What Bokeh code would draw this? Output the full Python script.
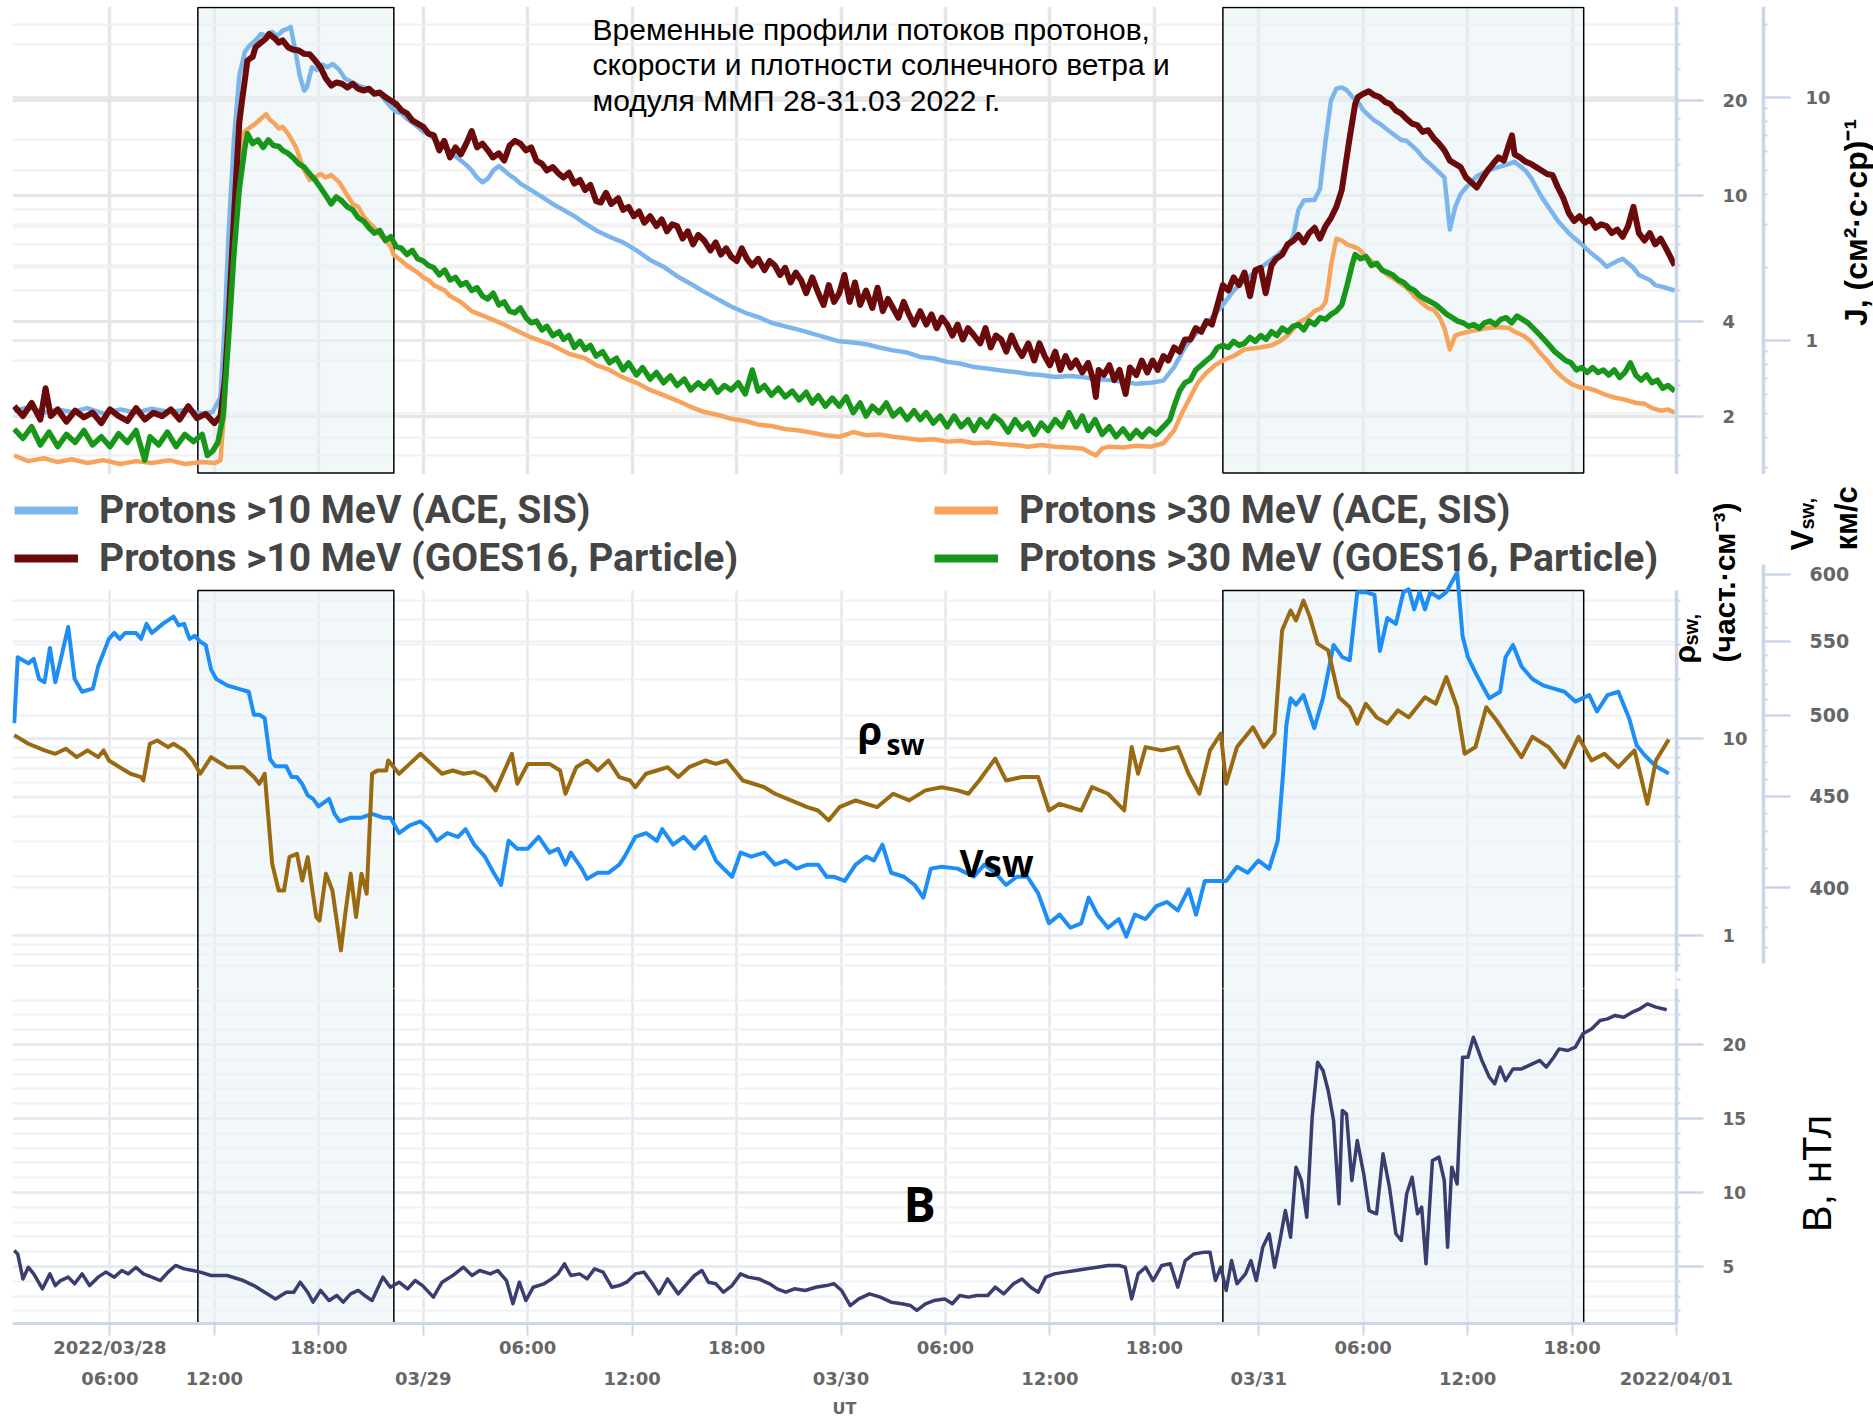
import numpy as np
import pandas as pd
from bokeh.plotting import figure
from bokeh.layouts import column
from bokeh.models import (Range1d, LogScale, LogAxis, LinearAxis, DatetimeAxis, FixedTicker, Grid,
                          Label, Legend, LegendItem, BasicTickFormatter)
from bokeh.embed import file_html
from bokeh.resources import INLINE

START = pd.Timestamp("2022-03-28 00:00")

# ---------------- data: (hours since 2022-03-28 00:00 UT, value) ----------------
ace10 = [(0.5,2.08),(1.3,2.13),(2.2,2.05),(3.0,2.1),(3.8,2.06),(4.7,2.12),(5.6,2.04),(6.6,2.1),(7.5,2.05),(8.4,2.11),
 (9.4,2.06),(10.3,2.09),(11.3,2.04),(11.9,2.06),(12.35,2.3),(12.6,4.0),(12.81,7.5),(13.12,15.0),(13.43,24.0),(13.75,28.5),
 (14.05,30.0),(14.36,31.0),(14.67,32.5),(14.98,32.0),(15.3,33.0),(15.6,32.0),(15.92,33.3),(16.23,33.8),(16.38,34.2),(16.69,28.0),
 (16.9,24.0),(17.16,21.5),(17.31,22.0),(17.6,25.5),(17.9,25.0),(18.2,26.0),(18.5,25.5),(18.8,26.1),(19.18,25.0),(19.5,23.5),
 (19.8,23.0),(20.26,22.3),(20.57,22.0),(20.88,21.5),(21.2,21.0),(21.5,21.0),(21.82,20.0),(22.13,19.1),(22.44,18.4),(22.75,18.2),
 (23.06,17.5),(23.37,17.0),(23.68,16.5),(24.0,15.9),(24.3,15.7),(24.61,15.1),(24.92,14.6),(25.23,14.2),(25.54,13.8),(25.85,13.3),
 (26.16,12.9),(26.47,12.5),(26.78,12.0),(27.09,11.4),(27.4,11.0),(27.71,11.3),(28.02,12.0),(28.34,12.4),(28.65,12.0),(28.96,11.6),
 (29.27,11.3),(29.58,10.9),(30.2,10.4),(30.82,9.9),(31.44,9.4),(32.06,9.0),(32.68,8.6),(33.3,8.15),(33.93,7.75),(34.7,7.4),
 (35.48,7.1),(36.25,6.7),(37.03,6.25),(37.8,5.95),(38.58,5.55),(39.36,5.25),(40.14,4.95),(40.9,4.7),(41.69,4.45),(42.5,4.25),
 (43.24,4.12),(44.0,3.95),(44.79,3.85),(45.6,3.75),(46.35,3.65),(47.1,3.55),(47.9,3.45),
 (48.7,3.42),(49.44,3.38),(50.2,3.3),(50.99,3.23),(51.8,3.18),(52.55,3.08),(53.3,3.05),(54.1,2.97),(54.9,2.93),(55.65,2.86),
 (56.4,2.83),(57.2,2.79),(58.0,2.76),(58.76,2.72),(59.5,2.7),(60.31,2.66),(61.1,2.68),(61.86,2.66),(62.6,2.62),(63.42,2.6),
 (64.2,2.57),(64.97,2.53),(65.8,2.55),(66.52,2.59),(67.14,2.86),(67.76,3.3),(68.38,3.64),(69.0,3.9),(69.31,4.1),(69.94,4.5),
 (70.56,5.0),(71.2,5.4),(72.11,5.9),(72.8,6.3),(73.66,6.9),(74.0,7.5),(74.28,9.0),(74.59,9.64),(75.21,9.7),(75.52,10.5),
 (75.84,14.9),(76.15,20.0),(76.46,21.8),(76.77,22.0),(77.08,21.5),(77.39,20.5),(77.7,19.8),(78.01,18.6),(78.63,17.3),(78.94,16.9),
 (79.56,15.9),(80.18,15.0),(80.49,14.9),(81.11,13.9),(81.42,13.2),(82.05,12.3),(82.67,11.4),(82.98,7.8),(83.29,9.2),(83.6,10.1),
 (83.91,10.6),(84.53,11.5),(85.15,12.0),(85.77,12.3),(86.39,12.6),(86.7,12.8),(87.32,12.0),(87.63,11.4),(88.25,9.9),(88.88,8.8),
 (89.19,8.3),(89.81,7.6),(90.43,7.1),(91.05,6.6),(91.67,6.2),(91.98,5.95),(92.6,6.2),(92.91,6.3),(93.53,5.9),(93.84,5.6),
 (94.47,5.4),(94.78,5.2),(95.4,5.1),(95.9,5.0)]

ace30 = [(0.5,1.5),(1.3,1.44),(2.2,1.47),(3.0,1.43),(3.8,1.46),(4.7,1.42),(5.6,1.45),(6.6,1.41),(7.5,1.44),(8.4,1.42),
 (9.4,1.45),(10.3,1.41),(11.3,1.43),(12.04,1.42),(12.35,1.45),(12.6,2.2),(12.81,4.0),(13.12,8.0),(13.43,13.5),(13.59,15.7),
 (13.9,16.2),(14.36,16.9),(14.67,17.5),(14.98,18.1),(15.14,17.5),(15.45,16.9),(15.7,16.3),(15.92,16.5),(16.23,15.7),(16.69,14.2),
 (17.16,12.0),(17.47,11.2),(17.78,11.4),(18.09,11.7),(18.4,11.4),(18.71,11.6),(19.18,11.0),(19.64,10.0),(19.95,9.4),(20.26,9.2),
 (20.57,8.6),(20.88,8.2),(21.19,7.9),(21.5,7.5),(21.82,7.2),(22.13,6.9),(22.28,6.5),(22.75,6.2),(23.06,6.0),(23.68,5.7),
 (24.0,5.5),(24.3,5.4),(24.61,5.2),(25.23,5.0),(25.54,4.8),(26.16,4.6),(26.78,4.3),(27.71,4.1),(28.65,3.9),(29.27,3.75),
 (30.2,3.55),(30.82,3.45),(31.44,3.35),(32.37,3.15),(33.3,3.05),(33.93,2.9),(34.7,2.8),(35.48,2.65),(36.25,2.55),(37.03,2.42),
 (37.8,2.33),(38.58,2.24),(39.36,2.14),(40.14,2.06),(40.9,2.02),(41.69,1.96),(42.5,1.93),(43.24,1.88),(44.0,1.86),(44.79,1.82),
 (45.6,1.8),(46.35,1.77),(47.1,1.74),(47.9,1.72),
 (48.7,1.78),(49.44,1.74),(50.2,1.75),(50.99,1.72),(51.8,1.7),(52.55,1.68),(53.3,1.69),(54.1,1.66),(54.9,1.67),(55.65,1.64),
 (56.4,1.65),(57.2,1.63),(58.0,1.62),(58.76,1.6),(59.5,1.62),(60.31,1.6),(61.1,1.59),(61.86,1.58),(62.64,1.5),(63.0,1.58),
 (63.42,1.6),(64.2,1.59),(64.97,1.61),(65.8,1.6),(66.52,1.64),(67.14,1.8),(67.6,2.05),(68.07,2.3),(68.5,2.55),(69.0,2.75),
 (69.5,2.9),(69.94,3.0),(70.56,3.1),(71.18,3.25),(72.11,3.3),(72.73,3.35),(73.2,3.45),(73.66,3.6),(74.28,3.95),(74.8,4.1),
 (75.21,4.3),(75.6,4.4),(75.84,4.6),(76.0,5.2),(76.15,6.0),(76.46,7.3),(76.77,7.2),(77.08,7.0),(77.39,6.9),(77.7,6.8),
 (78.32,6.3),(78.94,5.9),(79.4,5.6),(79.87,5.4),(80.49,5.1),(81.11,4.7),(81.73,4.4),(82.05,4.35),(82.4,4.1),(82.67,3.8),
 (82.98,3.25),(83.29,3.6),(83.6,3.65),(84.05,3.7),(84.53,3.75),(85.15,3.8),(85.77,3.83),(86.39,3.8),(86.7,3.7),(87.2,3.6),
 (87.63,3.45),(88.1,3.2),(88.57,3.0),(89.0,2.8),(89.5,2.64),(90.0,2.52),(90.43,2.47),(90.9,2.45),(91.36,2.41),(91.8,2.35),
 (92.29,2.3),(92.8,2.27),(93.22,2.24),(93.7,2.2),(94.16,2.19),(94.6,2.12),(95.09,2.08),(95.5,2.1),(95.9,2.05)]

goes10 = [(0.5,2.15),(1.0,2.0),(1.5,2.2),(2.0,1.95),(2.3,2.45),(2.6,2.0),(3.0,2.1),(3.5,1.92),(4.0,2.08),(4.5,1.98),
 (5.0,2.05),(5.5,1.9),(6.0,2.1),(6.5,2.0),(7.0,1.93),(7.5,2.12),(8.0,1.95),(8.5,2.05),(9.0,2.0),(9.5,2.1),
 (10.0,1.95),(10.5,2.15),(11.0,1.97),(11.5,2.03),(12.0,1.9),(12.35,2.0),(12.6,2.6),(12.81,4.0),(13.12,8.5),(13.43,17.0),
 (13.59,20.0),(13.9,26.8),(14.2,27.5),(14.36,29.5),(14.67,30.5),(14.98,31.5),(15.14,32.5),(15.45,31.5),(15.7,30.5),(15.92,31.0),
 (16.23,29.5),(16.5,29.0),(16.85,28.8),(17.16,28.1),(17.47,28.0),(17.78,26.8),(18.09,25.5),(18.4,23.5),(18.71,22.3),(19.0,22.8),
 (19.33,22.6),(19.64,22.0),(19.95,22.6),(20.26,21.8),(20.57,21.5),(20.88,21.8),(21.19,21.0),(21.5,21.2),(21.82,20.5),(22.13,20.0),
 (22.44,19.5),(22.75,18.6),(23.06,18.2),(23.37,17.3),(23.68,16.9),(24.0,16.5),(24.3,15.7),(24.61,15.5),(24.92,13.9),(25.2,14.9),
 (25.54,13.2),(25.85,14.2),(26.16,13.5),(26.47,14.6),(26.78,16.0),(27.09,14.2),(27.4,14.6),(27.71,13.9),(28.0,13.2),(28.34,13.6),
 (28.65,12.9),(28.96,14.4),(29.27,14.9),(29.58,14.6),(29.9,13.9),(30.2,14.2),(30.5,12.9),(30.82,12.6),(31.1,12.0),(31.44,12.3),
 (31.8,11.7),(32.06,11.4),(32.37,11.8),(32.68,10.9),(33.0,11.2),(33.3,10.4),(33.6,10.8),(33.93,9.6),(34.2,9.5),(34.5,10.2),
 (34.8,9.4),(35.2,9.8),(35.48,9.0),(35.8,9.2),(36.1,8.6),(36.4,8.9),(36.7,8.2),(37.03,8.6),(37.4,8.0),(37.7,8.4),
 (38.0,7.7),(38.3,8.1),(38.58,8.0),(38.9,7.3),(39.2,7.7),(39.5,7.0),(39.8,7.5),(40.14,7.2),(40.5,6.7),(40.8,7.1),
 (41.1,6.5),(41.4,6.8),(41.69,6.4),(42.0,6.2),(42.3,6.8),(42.6,6.3),(42.9,6.0),(43.24,6.3),(43.6,5.8),(43.9,6.2),
 (44.2,6.0),(44.5,5.6),(44.79,5.9),(45.1,5.3),(45.4,5.7),(45.7,5.4),(46.0,4.9),(46.35,5.5),(46.7,4.9),(47.0,4.5),
 (47.3,5.2),(47.6,4.6),(47.9,4.9),
 (48.2,5.6),(48.5,4.6),(48.8,5.3),(49.1,4.5),(49.44,5.0),(49.8,4.4),(50.1,5.1),(50.4,4.3),(50.7,4.7),(50.99,4.4),
 (51.3,4.1),(51.6,4.6),(51.9,4.2),(52.2,3.9),(52.55,4.3),(52.9,3.9),(53.2,4.2),(53.5,3.8),(53.8,4.1),(54.1,3.9),
 (54.4,3.6),(54.7,3.9),(55.0,3.5),(55.3,3.8),(55.65,3.6),(56.0,3.4),(56.3,3.8),(56.6,3.3),(56.9,3.6),(57.2,3.5),
 (57.5,3.2),(57.8,3.6),(58.1,3.3),(58.4,3.1),(58.76,3.4),(59.1,3.0),(59.4,3.4),(59.7,3.1),(60.0,2.9),(60.31,3.2),
 (60.6,2.8),(60.9,3.1),(61.2,2.85),(61.5,3.0),(61.86,2.75),(62.2,2.95),(62.5,2.6),(62.64,2.3),(62.8,2.8),(63.1,2.7),
 (63.42,2.9),(63.7,2.6),(64.0,2.8),(64.35,2.35),(64.6,2.85),(64.97,2.7),(65.28,3.0),(65.6,2.75),(65.9,3.0),(66.2,2.8),
 (66.52,3.1),(66.8,3.0),(67.14,3.3),(67.45,3.2),(67.76,3.5),(68.07,3.5),(68.38,3.8),(68.7,3.7),(69.0,4.0),(69.31,3.9),
 (69.63,4.5),(69.94,5.2),(70.25,5.0),(70.56,5.5),(70.87,5.2),(71.18,5.7),(71.5,4.8),(71.8,5.8),(72.11,5.9),(72.4,4.9),
 (72.73,6.0),(73.0,6.3),(73.35,6.5),(73.66,7.0),(74.0,7.2),(74.28,7.5),(74.59,7.1),(74.9,7.6),(75.21,7.9),(75.52,7.3),
 (75.84,8.0),(76.15,8.5),(76.46,9.2),(76.77,10.4),(77.08,13.5),(77.23,15.3),(77.54,19.5),(77.7,20.5),(78.01,21.0),(78.32,21.4),
 (78.63,20.8),(78.94,20.5),(79.25,19.8),(79.56,19.5),(79.87,18.6),(80.18,18.2),(80.49,17.5),(80.8,16.9),(81.11,16.7),(81.42,15.9),
 (81.73,16.1),(82.05,15.2),(82.36,14.6),(82.67,13.9),(82.98,12.9),(83.29,12.6),(83.6,12.3),(83.91,11.4),(84.22,11.0),(84.53,10.6),
 (84.84,11.3),(85.15,12.0),(85.46,12.6),(85.77,13.2),(86.08,12.9),(86.39,14.6),(86.55,15.5),(86.7,13.5),(87.01,13.2),(87.32,12.8),
 (87.63,12.6),(87.94,12.3),(88.25,12.0),(88.57,11.7),(88.88,11.6),(89.19,10.6),(89.5,9.8),(89.81,8.8),(90.12,8.3),(90.43,8.6),
 (90.74,8.2),(91.05,8.4),(91.36,7.9),(91.67,8.1),(91.98,8.0),(92.29,7.6),(92.6,7.8),(92.91,7.4),(93.22,8.0),(93.53,9.2),
 (93.84,7.6),(94.16,7.2),(94.47,7.6),(94.78,7.0),(95.09,7.3),(95.4,6.8),(95.9,6.0)]

goes30 = [(0.5,1.82),(1.0,1.7),(1.5,1.85),(2.0,1.62),(2.5,1.78),(3.0,1.6),(3.5,1.75),(4.0,1.65),(4.5,1.8),(5.0,1.62),
 (5.5,1.72),(6.0,1.6),(6.5,1.76),(7.0,1.65),(7.5,1.8),(8.0,1.45),(8.3,1.72),(8.8,1.62),(9.3,1.78),(9.8,1.6),
 (10.3,1.75),(10.8,1.66),(11.3,1.75),(11.6,1.5),(11.9,1.55),(12.2,1.65),(12.5,2.0),(12.81,3.5),(13.12,6.5),(13.43,10.5),
 (13.75,14.2),(13.9,15.7),(14.2,14.6),(14.5,15.0),(14.8,14.2),(15.1,15.0),(15.4,14.4),(15.7,14.3),(15.92,13.9),(16.23,13.6),
 (16.5,13.2),(16.85,12.6),(17.16,12.3),(17.47,11.7),(17.78,11.2),(18.09,10.6),(18.4,10.0),(18.71,9.4),(19.0,9.9),(19.33,9.6),
 (19.64,9.2),(19.95,9.0),(20.26,8.5),(20.57,8.3),(20.88,7.9),(21.19,7.6),(21.5,7.75),(21.82,7.2),(22.13,7.4),(22.44,6.9),
 (22.75,6.8),(23.06,6.5),(23.37,6.7),(23.68,6.3),(24.0,6.2),(24.3,6.0),(24.61,5.9),(24.92,5.6),(25.23,5.8),(25.54,5.4),
 (25.85,5.5),(26.16,5.2),(26.47,5.3),(26.78,5.0),(27.09,5.1),(27.4,4.8),(27.71,4.7),(28.02,4.9),(28.34,4.5),(28.65,4.6),
 (28.96,4.3),(29.27,4.25),(29.58,4.4),(29.9,4.1),(30.2,3.95),(30.5,4.0),(30.82,3.75),(31.1,3.85),(31.44,3.6),(31.8,3.7),
 (32.06,3.5),(32.37,3.6),(32.68,3.3),(33.0,3.45),(33.3,3.25),(33.6,3.35),(33.93,3.1),(34.3,3.2),(34.7,2.95),(35.1,3.05),
 (35.48,2.8),(35.8,2.95),(36.25,2.7),(36.6,2.85),(37.03,2.62),(37.4,2.75),(37.8,2.55),(38.2,2.68),(38.58,2.5),(39.0,2.62),
 (39.36,2.42),(39.8,2.55),(40.14,2.45),(40.5,2.58),(40.9,2.38),(41.3,2.5),(41.69,2.42),(42.1,2.55),(42.5,2.35),(42.9,2.8),
 (43.24,2.4),(43.6,2.5),(44.0,2.33),(44.4,2.45),(44.79,2.3),(45.2,2.4),(45.6,2.25),(46.0,2.38),(46.35,2.2),(46.7,2.32),
 (47.1,2.15),(47.5,2.28),(47.9,2.15),
 (48.3,2.3),(48.7,2.05),(49.1,2.2),(49.44,2.0),(49.8,2.15),(50.2,2.05),(50.6,2.2),(50.99,2.0),(51.4,2.1),(51.8,1.95),
 (52.2,2.08),(52.55,1.95),(52.9,2.05),(53.3,1.9),(53.7,2.0),(54.1,1.85),(54.5,2.0),(54.9,1.85),(55.3,1.95),(55.65,1.8),
 (56.0,1.95),(56.4,1.85),(56.8,2.0),(57.2,1.92),(57.6,1.78),(58.0,1.95),(58.4,1.82),(58.76,1.9),(59.1,1.75),(59.5,1.9),
 (59.9,1.8),(60.31,1.95),(60.7,1.85),(61.1,2.05),(61.5,1.85),(61.86,2.0),(62.2,1.8),(62.6,1.95),(63.0,1.75),(63.42,1.85),
 (63.8,1.72),(64.2,1.82),(64.6,1.7),(64.97,1.8),(65.3,1.72),(65.7,1.82),(66.1,1.75),(66.52,1.85),(66.9,1.95),(67.14,2.15),
 (67.45,2.4),(67.76,2.55),(68.07,2.6),(68.38,2.8),(68.7,2.9),(69.0,3.0),(69.31,3.1),(69.63,3.3),(69.94,3.35),(70.25,3.3),
 (70.56,3.45),(70.87,3.35),(71.18,3.4),(71.5,3.55),(71.8,3.45),(72.11,3.6),(72.42,3.5),(72.73,3.7),(73.04,3.6),(73.35,3.8),
 (73.66,3.7),(73.97,3.85),(74.28,3.9),(74.59,3.75),(74.9,4.0),(75.21,3.9),(75.52,4.1),(75.84,4.05),(76.15,4.2),(76.46,4.3),
 (76.77,4.5),(77.08,5.2),(77.39,6.1),(77.54,6.5),(77.85,6.3),(78.16,6.4),(78.47,6.0),(78.78,6.1),(79.09,5.8),(79.4,5.7),
 (79.71,5.6),(80.02,5.4),(80.33,5.3),(80.64,5.1),(80.95,5.0),(81.26,4.8),(81.57,4.7),(81.88,4.6),(82.19,4.5),(82.5,4.35),
 (82.81,4.2),(83.12,4.1),(83.43,4.0),(83.74,3.95),(84.05,3.85),(84.36,3.9),(84.67,3.8),(84.98,3.95),(85.29,4.0),(85.6,3.9),
 (85.91,4.05),(86.22,4.1),(86.53,3.95),(86.84,4.15),(87.15,4.05),(87.46,3.95),(87.77,3.8),(88.08,3.65),(88.39,3.5),(88.7,3.35),
 (89.01,3.2),(89.32,3.1),(89.63,3.0),(89.94,2.95),(90.25,2.8),(90.56,2.85),(90.87,2.75),(91.18,2.85),(91.49,2.75),(91.8,2.8),
 (92.11,2.7),(92.42,2.8),(92.73,2.65),(93.04,2.75),(93.35,2.95),(93.66,2.7),(93.97,2.6),(94.28,2.7),(94.59,2.55),(94.9,2.6),
 (95.21,2.45),(95.52,2.5),(95.9,2.4)]

rho_sw = [(0.5,10.4),(1.31,9.4),(2.24,8.7),(2.86,8.36),(3.47,8.87),(4.09,8.04),(4.71,8.7),(5.32,8.04),(5.63,8.7),(5.94,7.73),
 (6.56,7.15),(7.18,6.62),(7.79,6.37),(7.92,6.12),(8.29,9.4),(8.72,9.77),(9.34,9.04),(9.65,9.4),(10.26,8.7),(10.76,7.73),
 (11.19,6.62),(11.81,8.04),(12.73,7.15),(13.66,7.15),(14.27,6.37),(14.58,5.89),(14.89,6.62),(15.08,4.15),(15.32,2.31),(15.69,1.69),
 (16.0,1.69),(16.31,2.5),(16.74,2.6),(17.05,1.9),(17.36,2.5),(17.85,1.24),(18.04,1.19),(18.41,2.06),(18.78,1.69),(19.27,0.84),
 (19.52,1.29),(19.83,2.06),(20.14,1.24),(20.45,2.06),(20.75,1.63),(21.06,6.62),(21.37,6.88),(21.87,6.88),(21.99,7.73),(22.61,6.62),
 (23.22,7.43),(23.84,8.36),(24.46,7.43),(25.08,6.62),(25.69,6.88),(26.31,6.62),(26.93,6.75),(27.54,6.37),(28.16,5.45),(29.09,8.36),
 (29.4,5.89),(30.01,7.43),(30.63,7.43),(31.25,7.43),(31.86,6.88),(32.17,5.24),(32.79,7.15),(33.41,7.73),(34.02,6.88),(34.64,7.73),
 (35.26,6.37),(35.88,6.12),(36.18,5.66),(36.8,6.62),(37.42,6.88),(38.04,7.15),(38.65,6.37),(39.27,7.15),(40.2,7.73),(40.81,7.43),
 (41.43,7.73),(42.36,6.12),(42.97,5.89),(43.59,5.66),(44.21,5.24),(45.13,4.85),(46.06,4.48),(46.68,4.31),(47.29,3.84),(47.91,4.48),
 (48.84,4.85),(49.45,4.66),(50.07,4.48),(51.0,5.24),(51.92,4.85),(52.85,5.45),(53.78,5.66),(54.7,5.45),(55.32,5.24),(55.94,6.12),
 (56.86,7.9),(57.48,6.12),(58.4,6.37),(59.33,6.37),(59.95,4.31),(60.56,4.66),(61.8,4.31),(62.42,5.66),(63.34,5.24),(64.27,4.31),
 (64.7,9.04),(65.07,6.62),(65.5,9.04),(66.43,8.7),(67.35,9.04),(67.97,6.62),(68.59,5.24),(69.2,8.7),(69.82,10.6),(70.13,5.89),
 (70.75,9.04),(71.67,11.4),(72.29,9.04),(72.91,10.6),(73.34,35.3),(73.83,44.6),(74.14,39.7),(74.57,50.1),(74.94,41.3),(75.38,30.3),
 (75.99,28.0),(76.61,16.2),(77.23,14.4),(77.66,11.9),(78.15,15.0),(78.77,12.8),(79.39,11.9),(80.0,13.9),(80.62,12.8),(81.55,16.2),
 (82.17,15.0),(82.78,20.5),(83.4,14.4),(83.83,8.36),(84.45,9.04),(85.07,14.4),(85.68,12.3),(86.3,10.2),(87.1,8.04),(87.72,10.2),
 (88.65,9.04),(89.57,7.15),(90.37,10.2),(91.12,7.73),(91.86,8.36),(92.66,7.15),(93.59,8.7),(94.33,4.66),(94.82,7.73),(95.56,9.9)]

v_sw = [(0.5,494.8),(0.7,538.9),(1.0,536.8),(1.31,534.6),(1.62,537.8),(1.93,523.9),(2.24,521.7),(2.55,545.4),(2.86,521.7),(3.16,536.8),
 (3.6,560.4),(3.97,523.9),(4.4,515.3),(5.02,517.4),(5.32,532.5),(5.94,551.8),(6.25,556.1),(6.56,551.8),(6.87,556.1),(7.49,556.1),
 (7.79,551.8),(8.1,562.6),(8.41,556.1),(9.03,562.6),(9.65,568.0),(9.95,561.5),(10.26,562.6),(10.57,551.8),(10.88,554.0),(11.19,549.7),
 (11.5,547.5),(11.81,530.3),(12.11,523.9),(12.73,519.6),(13.35,517.4),(13.97,515.3),(14.27,500.2),(14.58,500.2),(14.89,498.0),(15.2,472.2),
 (15.51,467.9),(16.13,467.9),(16.43,461.5),(16.74,461.5),(17.05,457.2),(17.36,450.7),(17.67,448.6),(17.98,444.3),(18.29,446.4),(18.59,448.6),
 (18.9,440.0),(19.21,435.7),(19.83,437.8),(20.45,437.8),(21.06,440.0),(21.68,437.8),(22.11,437.8),(22.61,429.2),(23.22,433.5),(23.84,435.7),
 (24.33,431.4),(24.77,424.9),(25.38,429.2),(26.0,427.1),(26.43,431.4),(26.93,422.8),(27.54,416.3),(28.04,407.7),(28.47,401.3),(28.9,424.9),
 (29.4,420.6),(30.01,420.6),(30.63,427.1),(31.25,418.5),(31.74,420.6),(32.17,412.0),(32.48,418.5),(33.1,409.9),(33.41,404.5),(34.02,407.7),
 (34.64,407.7),(35.26,412.0),(35.57,416.3),(36.18,427.1),(36.8,429.2),(37.42,424.9),(37.73,431.4),(38.35,422.8),(38.96,427.1),(39.58,420.6),
 (40.2,427.1),(40.81,414.2),(41.25,409.9),(41.74,405.6),(42.23,418.5),(42.85,416.3),(43.59,418.5),(44.21,412.0),(44.83,414.2),(45.44,409.9),
 (46.06,412.0),(46.68,412.0),(47.17,405.6),(47.6,405.6),(48.22,403.4),(48.84,412.0),(49.45,416.3),(49.89,414.2),(50.38,422.8),(50.88,407.7),
 (51.62,405.6),(52.23,401.3),(52.73,394.8),(53.16,409.9),(53.78,410.9),(54.7,409.9),(55.63,405.6),(56.24,412.0),(56.86,407.7),(57.48,401.3),
 (58.1,405.6),(58.71,405.6),(59.33,397.0),(59.95,381.9),(60.56,386.2),(61.18,379.7),(61.8,381.9),(62.23,394.8),(62.73,386.2),(63.34,379.7),
 (63.96,384.0),(64.39,375.4),(64.88,386.2),(65.5,384.0),(66.12,390.5),(66.74,392.6),(67.35,388.3),(67.97,399.1),(68.4,386.2),(68.9,403.4),
 (69.51,403.4),(70.13,403.4),(70.75,410.9),(71.37,407.7),(71.98,414.2),(72.6,409.9),(73.09,424.9),(73.4,463.6),(73.59,493.7),(73.83,511.0),
 (74.14,506.7),(74.57,513.1),(75.19,491.6),(75.69,511.0),(76.3,547.5),(76.8,538.9),(77.23,536.8),(77.66,586.2),(78.15,586.2),(78.65,584.1),
 (78.96,543.2),(79.39,566.9),(79.88,562.6),(80.31,586.2),(80.62,588.4),(80.93,573.3),(81.24,586.2),(81.55,573.3),(81.86,586.2),(82.35,581.9),
 (82.78,586.2),(83.4,601.3),(83.71,554.0),(84.02,538.9),(84.45,528.2),(84.94,517.4),(85.25,511.0),(85.87,515.3),(86.18,538.9),(86.61,547.5),
 (87.1,532.5),(87.72,523.9),(88.34,519.6),(88.96,517.4),(89.57,515.3),(90.19,508.8),(90.99,513.1),(91.43,502.3),(92.04,513.1),(92.66,515.3),
 (93.28,498.0),(93.71,480.8),(94.2,474.4),(94.82,467.9),(95.56,463.6)]

b_imf = [(0.5,6.08),(0.7,5.85),(1.0,4.16),(1.31,4.95),(1.62,4.5),(2.12,3.49),(2.55,4.5),(2.86,3.71),(3.16,4.05),(3.6,4.28),
 (3.97,3.83),(4.4,4.5),(4.83,3.71),(5.32,4.28),(5.76,4.62),(6.25,4.28),(6.68,4.73),(7.05,4.5),(7.49,4.95),(7.92,4.5),
 (8.41,4.28),(8.9,4.05),(9.34,4.62),(9.77,5.07),(10.26,4.84),(10.76,4.73),(11.19,4.62),(11.81,4.39),(12.73,4.39),(13.66,4.05),
 (14.27,3.71),(14.89,3.26),(15.51,2.81),(16.13,3.26),(16.56,3.26),(16.93,3.94),(17.36,3.26),(17.67,2.59),(18.1,3.38),(18.59,2.7),
 (19.03,3.04),(19.4,2.59),(19.83,3.15),(20.26,3.38),(20.63,3.04),(21.06,2.7),(21.68,4.28),(22.11,3.6),(22.61,3.94),(23.1,3.49),
 (23.53,4.05),(23.96,3.71),(24.58,2.93),(25.08,3.94),(25.69,4.39),(26.31,4.95),(26.8,4.39),(27.24,4.73),(27.85,4.5),(28.28,4.73),
 (28.78,4.05),(29.15,2.48),(29.52,3.94),(29.89,2.7),(30.32,3.6),(30.94,3.83),(31.37,4.16),(31.74,4.5),(32.11,5.18),(32.48,4.39),
 (32.98,4.5),(33.41,4.16),(33.84,4.84),(34.33,4.62),(34.83,3.6),(35.26,3.71),(35.69,3.94),(36.18,4.5),(36.68,4.62),(37.11,3.94),
 (37.54,3.15),(38.04,4.16),(38.65,3.15),(39.15,3.83),(39.58,4.39),(40.01,4.73),(40.38,3.94),(40.81,3.83),(41.25,3.26),(41.74,3.71),
 (42.23,4.5),(42.67,4.28),(43.28,4.16),(43.9,3.83),(44.33,3.49),(44.83,3.26),(45.32,3.49),(45.94,3.38),(46.55,3.6),(47.17,3.71),
 (47.6,3.83),(48.03,3.38),(48.53,2.36),(49.02,2.81),(49.64,3.15),(50.26,2.93),(50.88,2.59),(51.49,2.48),(51.99,2.36),(52.36,2.03),
 (52.85,2.48),(53.34,2.7),(53.96,2.81),(54.39,2.48),(54.82,3.04),(55.32,2.93),(55.81,3.04),(56.43,3.04),(56.86,3.6),(57.35,3.15),
 (57.91,3.83),(58.4,4.16),(58.9,3.6),(59.33,3.26),(59.76,4.28),(60.26,4.5),(60.87,4.62),(61.49,4.73),(62.11,4.84),(62.72,4.95),
 (63.34,5.07),(63.96,5.07),(64.33,4.95),(64.7,2.81),(65.07,4.5),(65.5,4.95),(65.93,4.05),(66.43,5.07),(66.92,5.18),(67.35,3.6),
 (67.78,5.4),(68.28,5.85),(68.9,5.97),(69.2,5.97),(69.51,4.05),(69.82,4.95),(70.13,3.38),(70.44,5.4),(70.75,3.83),(71.24,4.5),
 (71.55,5.4),(71.86,4.05),(72.23,6.3),(72.6,7.21),(72.91,4.95),(73.22,6.76),(73.53,8.78),(73.83,6.98),(74.14,11.71),(74.45,10.81),
 (74.76,8.33),(75.07,15.09),(75.38,18.8),(75.69,18.24),(75.99,16.89),(76.3,14.86),(76.61,9.23),(76.8,15.54),(77.04,15.31),(77.35,10.81),
 (77.66,13.51),(78.03,11.26),(78.34,8.78),(78.77,8.56),(79.14,12.61),(79.51,10.36),(79.88,7.21),(80.19,6.76),(80.5,9.91),(80.81,11.03),
 (81.12,8.56),(81.36,9.01),(81.61,5.18),(81.98,12.16),(82.35,12.39),(82.66,10.81),(82.85,6.3),(83.09,11.71),(83.4,10.58),(83.71,19.14),
 (84.02,19.14),(84.33,20.49),(84.82,18.92),(85.25,17.79),(85.56,17.34),(85.87,18.47),(86.18,17.56),(86.61,18.35),(87.1,18.35),(87.72,18.69),
 (88.15,18.92),(88.52,18.47),(88.95,19.14),(89.26,19.7),(89.76,19.59),(90.19,19.82),(90.62,20.72),(91.12,21.05),(91.61,21.62),(92.04,21.73),
 (92.47,21.96),(92.97,21.84),(93.46,22.18),(93.9,22.41),(94.33,22.74),(94.82,22.52),(95.44,22.34)]

# highlighted intervals (hours)
box_start_h = [11.05, 69.94]
box_end_h = [22.31, 90.67]

# x ticks every 6 h and their (two-row) labels
tick_hours = [6, 12, 18, 24, 30, 36, 42, 48, 54, 60, 66, 72, 78, 84, 90, 96]
tick_text = ["2022/03/28\n06:00", " \n12:00", "18:00", " \n03/29", "06:00", " \n12:00", "18:00", " \n03/30",
             "06:00", " \n12:00", "18:00", " \n03/31", "06:00", " \n12:00", "18:00", " \n2022/04/01"]

legend_labels = ["Protons >10 MeV (ACE, SIS)", "Protons >10 MeV (GOES16, Particle)",
                 "Protons >30 MeV (ACE, SIS)", "Protons >30 MeV (GOES16, Particle)"]

# ---------------- helpers ----------------
def to_time(h):
    return START + pd.to_timedelta(np.asarray(h, dtype=float), unit="h")

def split(pairs):
    h, v = zip(*pairs)
    return to_time(h), np.asarray(v, dtype=float)

def ms(h):
    return int((START + pd.Timedelta(hours=h)).value // 10**6)

AXC = "#ccd6eb"
LBL = "#666666"
C_ACE10, C_GOES10, C_ACE30, C_GOES30 = "#7cb5ec", "#6b0a0a", "#f7a35c", "#17961a"
C_RHO, C_V, C_B = "#9a6a12", "#1c8ef5", "#393d70"
BOX_FILL = "#e8f1f5"

H0, H_AX, H_AX2, H1 = 0.40, 96.0, 101.0, 107.32      # x extent; axis positions (hours)
B_BOTTOM = 1.15                                      # lower edge of the B panel
tick_ms = [ms(h) for h in tick_hours]
overrides = {m: t for m, t in zip(tick_ms, tick_text)}
xr = Range1d(start=(START + pd.Timedelta(hours=H0)).to_pydatetime(),
             end=(START + pd.Timedelta(hours=H1)).to_pydatetime())
box_l, box_r = to_time(box_start_h), to_time(box_end_h)
side_l, side_r = to_time([H_AX]), to_time([H1 + 1])
full_l = to_time([H0 - 1])


def style_axis(ax, ticks, minor, size="18px", standoff=19, bounds=None):
    ax.ticker = FixedTicker(ticks=ticks, minor_ticks=minor)
    ax.formatter = BasicTickFormatter()
    ax.axis_line_color = AXC
    ax.axis_line_width = 3.5
    ax.major_tick_line_color = AXC
    ax.major_tick_line_width = 2.5
    ax.major_tick_out = 27
    ax.major_tick_in = 0
    ax.minor_tick_line_color = AXC
    ax.minor_tick_line_width = 2
    ax.minor_tick_out = 4
    ax.minor_tick_in = 0
    ax.major_label_standoff = standoff
    ax.major_label_text_font = "DejaVu Sans"
    ax.major_label_text_font_style = "bold"
    ax.major_label_text_font_size = size
    ax.major_label_text_color = LBL
    if bounds is not None:
        ax.bounds = bounds


def lab(p, x, y, text, size, font="Liberation Sans", style="normal", color="black",
        align="left", baseline="alphabetic", angle=0.0):
    p.add_layout(Label(x=x, y=y, x_units="screen", y_units="screen", text=text,
                       text_font=font, text_font_size=size, text_font_style=style,
                       text_color=color, text_align=align, text_baseline=baseline,
                       angle=angle, angle_units="rad"))


common = dict(width=1873, x_range=xr, x_axis_type="datetime", toolbar_location=None,
              output_backend="svg", min_border_left=12, min_border_right=0,
              background_fill_color="white", border_fill_color="white")

# ================= top panel: proton fluxes =================
p1 = figure(height=474, y_range=Range1d(1.306, 39.7), y_axis_type="log", x_axis_location=None,
            y_axis_location=None, min_border_top=6, min_border_bottom=0, **common)
p1.extra_y_ranges = {"goes": Range1d(0.281, 23.7)}
p1.extra_y_scales = {"goes": LogScale()}
ax_j = LogAxis(fixed_location=ms(H_AX))
style_axis(ax_j, [2, 4, 10, 20], [1.5, 2.5, 3, 3.5, 5, 6, 7, 8, 9, 12.5, 15, 17.5, 25, 30, 35])
p1.add_layout(ax_j, "right")
ax_goes = LogAxis(y_range_name="goes", fixed_location=ms(H_AX2))
style_axis(ax_goes, [1, 10], [0.3, 0.4, 0.5, 0.6, 0.7, 0.8, 0.9, 2, 3, 4, 5, 6, 7, 8, 9, 20], standoff=15)
p1.add_layout(ax_goes, "right")

p1.xgrid.ticker = FixedTicker(ticks=tick_ms)
p1.xgrid.grid_line_color = "#e6e6e6"
p1.xgrid.grid_line_width = 3.5
p1.ygrid.ticker = FixedTicker(ticks=[2, 4, 10, 20], minor_ticks=[1.5, 3, 5, 6, 7, 8, 9, 15, 30])
p1.ygrid.grid_line_color = "#e6e6e6"
p1.ygrid.grid_line_width = 3
p1.ygrid.minor_grid_line_color = "#f0f0f0"
p1.ygrid.minor_grid_line_width = 2
p1.add_layout(Grid(dimension=1, y_range_name="goes",
                   ticker=FixedTicker(ticks=[1, 10], minor_ticks=[0.4, 0.5, 2, 3, 5, 20]),
                   grid_line_color="#e6e6e6", grid_line_width=2.5,
                   minor_grid_line_color="#f0f0f0", minor_grid_line_width=2))
p1.outline_line_color = None

# white margin to the right of the time axis (keeps the grid inside the panel)
p1.quad(left=side_l, right=side_r, bottom=[1.0], top=[50.0], fill_color="white", line_color=None)
p1.quad(left=box_l, right=box_r, bottom=[1.32, 1.32], top=[39.4, 39.4], fill_color=BOX_FILL,
        fill_alpha=0.55, line_color="black", line_width=1.5)
for series, col, w in [(ace10, C_ACE10, 4.5), (ace30, C_ACE30, 4.5), (goes10, C_GOES10, 6), (goes30, C_GOES30, 5.5)]:
    t, v = split(series)
    p1.line(t, v, line_color=col, line_width=w, line_join="round")

lab(p1, 580, 445, "Временные профили потоков протонов,", "30px")
lab(p1, 580, 410, "скорости и плотности солнечного ветра и", "30px")
lab(p1, 580, 374, "модуля ММП 28-31.03 2022 г.", "30px")
lab(p1, 1843, 252, "J, (см²·с·ср)⁻¹", "32px", style="bold", align="center", baseline="middle", angle=np.pi / 2)

# ================= middle panel (with legend band on top) =================
p2 = figure(height=514, y_range=Range1d(0.538, 218.8), y_axis_type="log", x_axis_location=None,
            y_axis_location=None, min_border_top=0, min_border_bottom=0, **common)
p2.extra_y_ranges = {"v": Range1d(351.0, 682.6), "legend": Range1d(1000.0, 2000.0)}
ax_rho = LogAxis(fixed_location=ms(H_AX))
style_axis(ax_rho, [1, 10], [0.6, 0.7, 0.8, 0.9, 2, 3, 4, 5, 6, 7, 8, 9, 20, 30, 40, 50], bounds=(0.66, 56.4))
p2.add_layout(ax_rho, "right")
ax_v = LinearAxis(y_range_name="v", fixed_location=ms(H_AX2))
style_axis(ax_v, [400, 450, 500, 550, 600], [v for v in range(370, 610, 10) if v % 50], size="19px",
           standoff=19, bounds=(362.6, 607.7))
p2.add_layout(ax_v, "right")

p2.xgrid.ticker = FixedTicker(ticks=tick_ms)
p2.xgrid.grid_line_color = "#e6e8ef"
p2.xgrid.grid_line_width = 2.5
p2.ygrid.ticker = FixedTicker(ticks=[1, 10], minor_ticks=[0.7, 0.8, 0.9, 2, 3, 4, 5, 6, 7, 8, 9, 20, 30, 40, 50])
p2.ygrid.bounds = (0.66, 56.4)
p2.ygrid.grid_line_color = "#e6e8ef"
p2.ygrid.grid_line_width = 2.5
p2.ygrid.minor_grid_line_color = "#f0f1f5"
p2.ygrid.minor_grid_line_width = 2
p2.add_layout(Grid(dimension=1, y_range_name="v", ticker=FixedTicker(ticks=[400, 450, 500, 550, 600]),
                   grid_line_color="#eceef3", grid_line_width=2))
p2.outline_line_color = None

p2.quad(left=side_l, right=side_r, bottom=[0.3], top=[400.0], fill_color="white", line_color=None)
p2.quad(left=full_l, right=side_r, bottom=[56.4], top=[400.0], fill_color="white", line_color=None)
p2.quad(left=box_l, right=box_r, bottom=[0.3, 0.3], top=[56.4, 56.4], fill_color=BOX_FILL,
        fill_alpha=0.55, line_color="black", line_width=1.5)
tv, vv = split(v_sw)
p2.line(tv, vv, y_range_name="v", line_color=C_V, line_width=4, line_join="round")
tr, rr = split(rho_sw)
p2.line(tr, rr, line_color=C_RHO, line_width=4, line_join="round")

# legend entries: the flux series drawn on an out-of-view range (only their swatches show)
leg_r = []
for series, col in [(ace10, C_ACE10), (goes10, C_GOES10), (ace30, C_ACE30), (goes30, C_GOES30)]:
    t, v = split(series)
    leg_r.append(p2.line(t, v, y_range_name="legend", line_color=col, line_width=8))
legend = Legend(items=[LegendItem(label=l, renderers=[r]) for l, r in zip(legend_labels, leg_r)],
                location=(2, 406), orientation="vertical", nrows=2, glyph_width=64, glyph_height=48,
                label_standoff=21, label_width=835, label_height=48, spacing=0, padding=0, margin=0,
                border_line_color=None, background_fill_alpha=0,
                label_text_font="Roboto", label_text_font_style="bold",
                label_text_font_size="39px", label_text_color="#454545")
p2.add_layout(legend)

lab(p2, 845, 259, "ρ", "40px", font="Open Sans", style="bold")
lab(p2, 874, 245, "sw", "28px", font="Open Sans", style="bold")
lab(p2, 947, 126, "Vsw", "37px", font="Open Sans", style="bold")
lab(p2, 1672, 325, "ρ", "30px", style="bold", angle=np.pi / 2)
lab(p2, 1678, 343, "sw,", "20px", style="bold", angle=np.pi / 2)
lab(p2, 1712, 326, "(част.·см⁻³)", "30px", style="bold", angle=np.pi / 2)
lab(p2, 1790, 438, "V", "31px", style="bold", angle=np.pi / 2)
lab(p2, 1794, 459, "sw,", "20px", style="bold", angle=np.pi / 2)
lab(p2, 1834, 438, "км/с", "31px", style="bold", angle=np.pi / 2)

# ================= bottom panel: IMF magnitude (frame reaches the page bottom) =================
p3 = figure(height=432, y_range=Range1d(-5.405, 23.78), y_axis_location=None, x_axis_location=None,
            min_border_top=0, min_border_bottom=0, **common)
ax_b = LinearAxis(fixed_location=ms(H_AX))
style_axis(ax_b, [5, 10, 15, 20], [v for v in range(2, 24) if v % 5], size="17px", standoff=19,
           bounds=(B_BOTTOM, 23.78))
p3.add_layout(ax_b, "right")
p3.xgrid.ticker = FixedTicker(ticks=tick_ms)
p3.xgrid.grid_line_color = "#e6e8ef"
p3.xgrid.grid_line_width = 2.5
p3.ygrid.ticker = FixedTicker(ticks=[5, 10, 15, 20], minor_ticks=[v for v in range(2, 24) if v % 5])
p3.ygrid.grid_line_color = "#e6e8ef"
p3.ygrid.grid_line_width = 2.5
p3.ygrid.minor_grid_line_color = "#f0f1f5"
p3.ygrid.minor_grid_line_width = 2
p3.outline_line_color = None

xa = DatetimeAxis(fixed_location=B_BOTTOM)
xa.ticker = FixedTicker(ticks=tick_ms)
xa.bounds = (ms(H0), ms(H_AX))
xa.major_label_overrides = overrides
xa.axis_line_color = AXC
xa.axis_line_width = 3
xa.major_tick_line_color = AXC
xa.major_tick_line_width = 2
xa.major_tick_out = 12
xa.major_tick_in = 0
xa.minor_tick_out = 0
xa.minor_tick_line_color = None
xa.major_label_standoff = 2
xa.major_label_text_font = "DejaVu Sans"
xa.major_label_text_font_style = "bold"
xa.major_label_text_font_size = "18px"
xa.major_label_text_color = LBL
xa.major_label_text_line_height = 1.43
p3.add_layout(xa, "below")

p3.quad(left=side_l, right=side_r, bottom=[-10.0], top=[30.0], fill_color="white", line_color=None)
p3.quad(left=full_l, right=side_r, bottom=[-10.0], top=[B_BOTTOM], fill_color="white", line_color=None)
p3.quad(left=box_l, right=box_r, bottom=[1.2, 1.2], top=[30, 30], fill_color=BOX_FILL,
        fill_alpha=0.55, line_color="black", line_width=1.5)
tb, bb = split(b_imf)
p3.line(tb, bb, line_color=C_B, line_width=3.5, line_join="round")

lab(p3, 891, 217, "B", "48px", font="Open Sans", style="bold")
lab(p3, 1804, 247, "В, нТл", "40px", align="center", baseline="middle", angle=np.pi / 2)
lab(p3, 832, 12, "UT", "16px", font="DejaVu Sans", style="bold", color=LBL, align="center", baseline="middle")

layout = column(p1, p2, p3)
open("out.html", "w").write(file_html(layout, INLINE, title="Proton fluxes, solar wind and IMF 28-31.03.2022"))
